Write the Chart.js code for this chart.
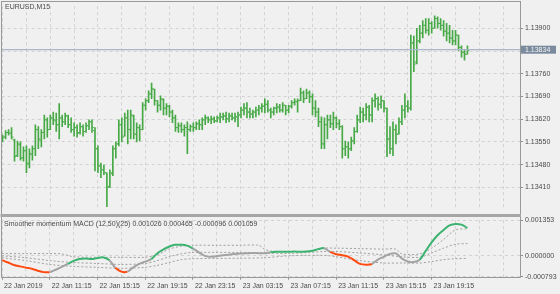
<!DOCTYPE html>
<html><head><meta charset="utf-8">
<script src="https://cdn.jsdelivr.net/npm/chart.js@4.4.1/dist/chart.umd.min.js"></script>
<style>
html,body{margin:0;padding:0;background:#f0f0f0;width:560px;height:294px;overflow:hidden}
#wrap{position:relative;width:560px;height:294px}
canvas{position:absolute;left:0}
#cA{top:0}
#cB{top:214px}
</style></head><body>
<div id="wrap"><canvas id="cA" width="560" height="216"></canvas><canvas id="cB" width="560" height="80"></canvas></div>
<script>
const symbolLabel = 'EURUSD,M15';
const indicatorLabel = 'Smoother momentum MACD (12,50)(25) 0.001026 0.000465 -0.000096 0.001059';
const timeLabels = ['22 Jan 2019','22 Jan 11:15','22 Jan 15:15','22 Jan 19:15','22 Jan 23:15','23 Jan 03:15','23 Jan 07:15','23 Jan 11:15','23 Jan 15:15','23 Jan 19:15'];
const priceTicks = [1.13410,1.13480,1.13550,1.13620,1.13690,1.13760,1.13830,1.13900];
const macdTicks = [-0.000793,0,0.001353];
const lastPrice = 1.13834;

const barOpen = [1.13556,1.13565,1.13579,1.13577,1.13556,1.13508,1.13541,1.13502,1.13523,1.13482,
1.13511,1.13529,1.13588,1.13556,1.13579,1.13618,1.13588,1.13624,1.13615,1.13603,
1.13624,1.13612,1.13630,1.13603,1.13588,1.13594,1.13579,1.13597,1.13582,1.13600,
1.13612,1.13585,1.13529,1.13476,1.13464,1.13455,1.13413,1.13452,1.13529,1.13544,
1.13603,1.13568,1.13624,1.13588,1.13630,1.13574,1.13594,1.13588,1.13663,1.13677,
1.13698,1.13713,1.13677,1.13663,1.13680,1.13654,1.13660,1.13642,1.13624,1.13594,
1.13600,1.13588,1.13594,1.13588,1.13597,1.13594,1.13606,1.13603,1.13618,1.13624,
1.13618,1.13621,1.13615,1.13624,1.13627,1.13630,1.13621,1.13630,1.13624,1.13627,
1.13633,1.13648,1.13654,1.13642,1.13636,1.13642,1.13648,1.13654,1.13660,1.13666,
1.13648,1.13642,1.13654,1.13657,1.13648,1.13663,1.13648,1.13660,1.13671,1.13674,
1.13677,1.13701,1.13683,1.13701,1.13689,1.13654,1.13642,1.13612,1.13544,1.13603,
1.13618,1.13606,1.13624,1.13606,1.13597,1.13529,1.13535,1.13529,1.13553,1.13582,
1.13618,1.13642,1.13633,1.13657,1.13633,1.13677,1.13683,1.13666,1.13677,1.13654,
1.13559,1.13529,1.13588,1.13574,1.13612,1.13648,1.13660,1.13654,1.13855,1.13796,
1.13861,1.13885,1.13909,1.13894,1.13915,1.13900,1.13930,1.13915,1.13909,1.13891,
1.13885,1.13870,1.13861,1.13879,1.13841,1.13826,1.13820];
const barHigh = [1.13571,1.13585,1.13588,1.13594,1.13559,1.13553,1.13550,1.13535,1.13538,1.13529,
1.13538,1.13603,1.13597,1.13588,1.13633,1.13624,1.13633,1.13642,1.13639,1.13668,
1.13633,1.13639,1.13633,1.13624,1.13609,1.13603,1.13609,1.13603,1.13609,1.13618,
1.13618,1.13594,1.13538,1.13485,1.13479,1.13455,1.13464,1.13538,1.13550,1.13618,
1.13624,1.13639,1.13648,1.13648,1.13633,1.13609,1.13603,1.13671,1.13683,1.13707,
1.13731,1.13713,1.13677,1.13692,1.13683,1.13668,1.13663,1.13648,1.13633,1.13609,
1.13609,1.13603,1.13612,1.13603,1.13609,1.13612,1.13618,1.13624,1.13633,1.13627,
1.13630,1.13627,1.13630,1.13639,1.13639,1.13642,1.13639,1.13639,1.13639,1.13642,
1.13657,1.13668,1.13671,1.13654,1.13648,1.13657,1.13663,1.13668,1.13683,1.13677,
1.13654,1.13657,1.13668,1.13666,1.13671,1.13663,1.13663,1.13677,1.13683,1.13683,
1.13716,1.13707,1.13713,1.13707,1.13698,1.13677,1.13654,1.13627,1.13624,1.13633,
1.13633,1.13642,1.13627,1.13618,1.13600,1.13553,1.13550,1.13565,1.13594,1.13633,
1.13657,1.13654,1.13668,1.13663,1.13686,1.13698,1.13689,1.13692,1.13677,1.13654,
1.13597,1.13612,1.13603,1.13624,1.13663,1.13698,1.13677,1.13879,1.13876,1.13900,
1.13909,1.13924,1.13930,1.13930,1.13921,1.13938,1.13935,1.13930,1.13924,1.13915,
1.13909,1.13894,1.13894,1.13879,1.13846,1.13832,1.13846];
const barLow = [1.13550,1.13559,1.13571,1.13559,1.13491,1.13505,1.13494,1.13491,1.13455,1.13470,
1.13494,1.13508,1.13529,1.13535,1.13559,1.13565,1.13588,1.13603,1.13582,1.13559,
1.13597,1.13603,1.13594,1.13579,1.13568,1.13565,1.13574,1.13568,1.13579,1.13588,
1.13579,1.13461,1.13455,1.13440,1.13449,1.13351,1.13410,1.13446,1.13500,1.13538,
1.13550,1.13568,1.13544,1.13559,1.13559,1.13550,1.13553,1.13588,1.13648,1.13671,
1.13683,1.13663,1.13642,1.13648,1.13633,1.13633,1.13627,1.13609,1.13582,1.13579,
1.13579,1.13568,1.13514,1.13582,1.13582,1.13588,1.13588,1.13588,1.13603,1.13609,
1.13606,1.13609,1.13612,1.13609,1.13618,1.13609,1.13612,1.13618,1.13612,1.13597,
1.13624,1.13633,1.13624,1.13624,1.13624,1.13627,1.13633,1.13642,1.13639,1.13642,
1.13624,1.13633,1.13639,1.13642,1.13642,1.13633,1.13639,1.13654,1.13663,1.13642,
1.13677,1.13671,1.13683,1.13671,1.13633,1.13627,1.13597,1.13529,1.13529,1.13559,
1.13594,1.13588,1.13594,1.13588,1.13500,1.13508,1.13500,1.13523,1.13544,1.13579,
1.13609,1.13612,1.13618,1.13612,1.13612,1.13657,1.13648,1.13654,1.13642,1.13505,
1.13514,1.13508,1.13544,1.13574,1.13603,1.13624,1.13642,1.13648,1.13766,1.13790,
1.13855,1.13870,1.13885,1.13879,1.13885,1.13900,1.13900,1.13894,1.13876,1.13861,
1.13855,1.13849,1.13849,1.13832,1.13811,1.13802,1.13820];
const barClose = [1.13565,1.13579,1.13577,1.13565,1.13505,1.13544,1.13500,1.13523,1.13485,1.13514,
1.13529,1.13588,1.13559,1.13579,1.13618,1.13588,1.13624,1.13618,1.13603,1.13624,
1.13612,1.13630,1.13603,1.13588,1.13594,1.13577,1.13597,1.13582,1.13600,1.13612,
1.13594,1.13529,1.13476,1.13464,1.13455,1.13410,1.13455,1.13529,1.13544,1.13603,
1.13565,1.13624,1.13588,1.13633,1.13574,1.13594,1.13588,1.13663,1.13677,1.13698,
1.13713,1.13677,1.13663,1.13683,1.13654,1.13660,1.13642,1.13624,1.13594,1.13600,
1.13588,1.13594,1.13588,1.13597,1.13594,1.13606,1.13603,1.13618,1.13624,1.13618,
1.13621,1.13615,1.13624,1.13627,1.13630,1.13621,1.13630,1.13624,1.13627,1.13633,
1.13648,1.13654,1.13642,1.13636,1.13642,1.13648,1.13654,1.13660,1.13666,1.13648,
1.13642,1.13654,1.13657,1.13648,1.13663,1.13648,1.13660,1.13671,1.13674,1.13677,
1.13701,1.13683,1.13701,1.13689,1.13654,1.13642,1.13612,1.13544,1.13603,1.13618,
1.13606,1.13624,1.13606,1.13597,1.13529,1.13535,1.13529,1.13553,1.13582,1.13618,
1.13642,1.13633,1.13657,1.13633,1.13677,1.13683,1.13666,1.13677,1.13654,1.13559,
1.13529,1.13588,1.13574,1.13612,1.13648,1.13660,1.13654,1.13855,1.13790,1.13861,
1.13885,1.13909,1.13894,1.13915,1.13900,1.13930,1.13915,1.13909,1.13891,1.13885,
1.13870,1.13861,1.13879,1.13841,1.13826,1.13820,1.13832];

// indicator: main line sampled every second bar
const macdBars = [0,2,4,6,8,10,12,14,16,18,20,22,24,26,28,30,32,34,36,38,40,42,44,46,48,50,52,54,56,58,60,62,64,66,68,70,72,74,76,78,80,82,84,86,88,90,92,94,96,98,100,102,104,106,108,110,112,114,116,118,120,122,124,126,128,130,132,134,136,138,140,142,144,146,148,150,152,154,156];
const macdMain = [-0.000164,-0.000255,-0.000346,-0.000400,-0.000448,-0.000491,-0.000564,-0.000619,-0.000619,-0.000528,
-0.000419,-0.000309,-0.000193,-0.000120,-0.000098,-0.000120,-0.000080,-0.000062,-0.000164,-0.000455,
-0.000601,-0.000601,-0.000437,-0.000306,-0.000218,-0.000127,0.000091,0.000237,0.000346,0.000419,
0.000419,0.000389,0.000273,0.000127,0.000000,-0.000036,-0.000011,0.000018,0.000044,0.000066,
0.000084,0.000098,0.000109,0.000102,0.000098,0.000138,0.000157,0.000157,0.000157,0.000160,
0.000157,0.000160,0.000189,0.000255,0.000291,0.000146,0.000062,0.000025,-0.000029,-0.000164,
-0.000306,-0.000335,-0.000309,-0.000146,-0.000036,0.000073,0.000091,-0.000098,-0.000218,-0.000237,
-0.000146,0.000182,0.000510,0.000783,0.000983,0.001154,0.001212,0.001183,0.001059];
const macdState = ['dn','dn','dn','dn','dn','dn','dn','dn','nt','nt',
'nt','up','up','up','up','up','up','up','nt','dn',
'dn','nt','nt','nt','nt','up','up','up','up','up',
'up','up','nt','nt','nt','nt','nt','nt','nt','nt',
'nt','nt','nt','nt','nt','up','up','up','up','up',
'up','up','up','up','nt','dn','dn','dn','dn','dn',
'dn','dn','nt','nt','nt','nt','nt','nt','nt','nt',
'up','up','up','up','up','up','up','up','up'];

const upperBars = [0,8,16,20,24,32,40,48,52,56,60,64,72,80,86,88,90,96,104,108,112,120,128,132,134,140,144,148,152,156];
const upperBand = [0.000084,0.000084,0.000084,0.000073,-0.000036,-0.000055,-0.000055,-0.000055,0.000036,0.000255,
0.000364,0.000400,0.000400,0.000400,0.000400,0.000255,0.000182,0.000164,0.000182,0.000291,
0.000291,0.000273,0.000255,0.000255,0.000073,0.000073,0.000291,0.000619,0.000983,0.001026];
const midBars = [0,8,16,24,32,40,48,52,56,60,64,80,88,96,108,112,120,128,134,140,144,148,152,156];
const midBand = [0,-0.000073,-0.000182,-0.000255,-0.000291,-0.000328,-0.000291,-0.000182,-0.000036,0.000073,
0.000127,0.000127,0.000109,0.000091,0.000164,0.000164,0.000109,0.000036,-0.000036,-0.000055,
0.000109,0.000291,0.000437,0.000465];
const lowerBars = [0,8,16,24,32,40,48,52,56,60,64,80,88,96,108,112,120,128,134,140,144,148,152,156];
const lowerBand = [-0.000073,-0.000182,-0.000328,-0.000400,-0.000437,-0.000473,-0.000437,-0.000364,-0.000255,-0.000146,
-0.000109,-0.000091,-0.000073,0,0.000018,-0.000036,-0.000182,-0.000273,-0.000273,-0.000273,
-0.000218,-0.000146,-0.000109,-0.000096];

// ---------- styling ----------
const BAR_COLOR = '#46a946';
const GRID_COLOR = '#d2d2d2';
const FRAME_COLOR = '#999999';
const TEXT_COLOR = '#4a4a4a';
const STATE_COLOR = {dn:'#ff4a10', up:'#3cb371', nt:'#a3a3a3'};
const FONT = "'Liberation Sans', Arial, sans-serif";
const X_MIN = -0.3, X_MAX = 173.63;

Chart.defaults.font.family = FONT;
Chart.defaults.font.size = 7;
Chart.defaults.color = TEXT_COLOR;
Chart.defaults.animation = false;

function gridTicks(scale) {
  const t = [];
  for (let v = 0; v <= X_MAX; v += 8) t.push({value: v});
  scale.ticks = t;
}
function isLabelled(v) { return v % 16 === 0 && v / 16 < timeLabels.length; }

const framePluginA = {
  id: 'frameA',
  afterDatasetsDraw(chart) {
    const {ctx, chartArea: a, scales: {y}} = chart;
    const py = y.getPixelForValue(lastPrice);
    ctx.save();
    ctx.strokeStyle = '#a9b7c9';
    ctx.lineWidth = 1.3;
    ctx.beginPath(); ctx.moveTo(a.left, py); ctx.lineTo(a.right, py); ctx.stroke();
    ctx.restore();
  },
  afterDraw(chart) {
    const {ctx, chartArea: a, scales: {y}} = chart;
    ctx.save();
    ctx.strokeStyle = FRAME_COLOR; ctx.lineWidth = 1;
    ctx.strokeRect(1.5, 1.5, a.right - 1, 213);
    const py = y.getPixelForValue(lastPrice);
    ctx.fillStyle = '#7a8b9e';
    ctx.fillRect(a.right + 1, py - 4, 35, 8);
    ctx.fillStyle = '#f4f4f4';
    ctx.font = '7px ' + FONT;
    ctx.textBaseline = 'middle'; ctx.textAlign = 'left';
    ctx.fillText(lastPrice.toFixed(5), a.right + 5, py + 0.5);
    ctx.fillStyle = TEXT_COLOR;
    ctx.fillText(symbolLabel, 5, 7.5);
    ctx.restore();
  }
};

const framePluginB = {
  id: 'frameB',
  afterDraw(chart) {
    const {ctx, chartArea: a} = chart;
    ctx.save();
    ctx.fillStyle = '#a6a6a6';
    ctx.fillRect(0.5, 0, a.right + 0.5, 3);
    ctx.strokeStyle = FRAME_COLOR; ctx.lineWidth = 1;
    ctx.beginPath();
    ctx.moveTo(1.5, 3); ctx.lineTo(1.5, 63.5); ctx.lineTo(a.right + 0.5, 63.5); ctx.lineTo(a.right + 0.5, 3);
    ctx.stroke();
    ctx.fillStyle = TEXT_COLOR;
    ctx.font = '7px ' + FONT;
    ctx.textBaseline = 'middle'; ctx.textAlign = 'left';
    ctx.fillText(indicatorLabel, 4, 10.5);
    ctx.restore();
  }
};

new Chart(document.getElementById('cA'), {
  type: 'bar',
  data: {
    datasets: [
      { type: 'bar', data: barHigh.map((h, i) => ({x: i, y: [barLow[i], h]})),
        backgroundColor: BAR_COLOR, borderWidth: 0, barThickness: 1, grouped: false },
      { type: 'line', showLine: false, data: barOpen.map((o, i) => ({x: i - 0.42, y: o})),
        pointStyle: 'line', pointRadius: 0.7, pointBorderWidth: 1, pointBorderColor: BAR_COLOR, pointHoverRadius: 0 },
      { type: 'line', showLine: false, data: barClose.map((c, i) => ({x: i + 0.42, y: c})),
        pointStyle: 'line', pointRadius: 0.7, pointBorderWidth: 1, pointBorderColor: BAR_COLOR, pointHoverRadius: 0 }
    ]
  },
  options: {
    responsive: false, devicePixelRatio: 1, events: [],
    layout: {padding: {left: 1, top: 2, right: 0, bottom: 2}},
    plugins: {legend: {display: false}, tooltip: {enabled: false}},
    scales: {
      x: { type: 'linear', min: X_MIN, max: X_MAX, offset: false,
        afterBuildTicks: gridTicks,
        afterFit: s => { s.height = 0; },
        ticks: {display: false},
        grid: {color: GRID_COLOR, drawTicks: false, offset: false},
        border: {display: false, dash: [3, 3]} },
      y: { type: 'linear', position: 'right', min: 1.13341, max: 1.13968,
        afterBuildTicks: s => { s.ticks = priceTicks.map(v => ({value: v})); },
        afterFit: s => { s.width = 40; },
        ticks: {callback: v => v.toFixed(5), padding: 2, autoSkip: false},
        grid: {color: GRID_COLOR, tickLength: 3, tickColor: '#8f8f8f'},
        border: {display: false, dash: [3, 3]} }
    }
  },
  plugins: [framePluginA]
});

new Chart(document.getElementById('cB'), {
  type: 'line',
  data: {
    datasets: [
      { data: macdBars.map((b, k) => ({x: b, y: macdMain[k]})), borderWidth: 2, pointRadius: 0, tension: 0.35,
        borderColor: STATE_COLOR.nt,
        segment: {borderColor: c => STATE_COLOR[macdState[c.p0DataIndex]]} },
      { data: upperBars.map((b, k) => ({x: b, y: upperBand[k]})), borderWidth: 1, borderDash: [2, 2],
        borderColor: '#a0a0a0', pointRadius: 0, tension: 0.3 },
      { data: midBars.map((b, k) => ({x: b, y: midBand[k]})), borderWidth: 1, borderDash: [2, 2],
        borderColor: '#a0a0a0', pointRadius: 0, tension: 0.3 },
      { data: lowerBars.map((b, k) => ({x: b, y: lowerBand[k]})), borderWidth: 1, borderDash: [2, 2],
        borderColor: '#a0a0a0', pointRadius: 0, tension: 0.3 }
    ]
  },
  options: {
    responsive: false, devicePixelRatio: 1, events: [],
    layout: {padding: {left: 1, top: 3.7, right: 0, bottom: 0}},
    plugins: {legend: {display: false}, tooltip: {enabled: false}},
    scales: {
      x: { type: 'linear', min: X_MIN, max: X_MAX, offset: false,
        afterBuildTicks: gridTicks,
        afterFit: s => { s.height = 17.3; },
        ticks: {autoSkip: false, maxRotation: 0, minRotation: 0, align: 'start', labelOffset: 2, padding: 2,
          callback: v => isLabelled(v) ? timeLabels[v / 16] : ''},
        grid: {color: GRID_COLOR, tickLength: 3, offset: false,
          tickColor: c => (c.tick && isLabelled(c.tick.value)) ? '#8f8f8f' : 'rgba(0,0,0,0)'},
        border: {display: false, dash: [3, 3]} },
      y: { type: 'linear', position: 'right', min: -0.000793, max: 0.001353,
        afterBuildTicks: s => { s.ticks = macdTicks.map(v => ({value: v})); },
        afterFit: s => { s.width = 40; },
        ticks: {callback: v => v.toFixed(6), padding: 2, autoSkip: false},
        grid: {color: GRID_COLOR, tickLength: 3, tickColor: '#8f8f8f'},
        border: {display: false, dash: [3, 3]} }
    }
  },
  plugins: [framePluginB]
});
</script>
</body></html>
